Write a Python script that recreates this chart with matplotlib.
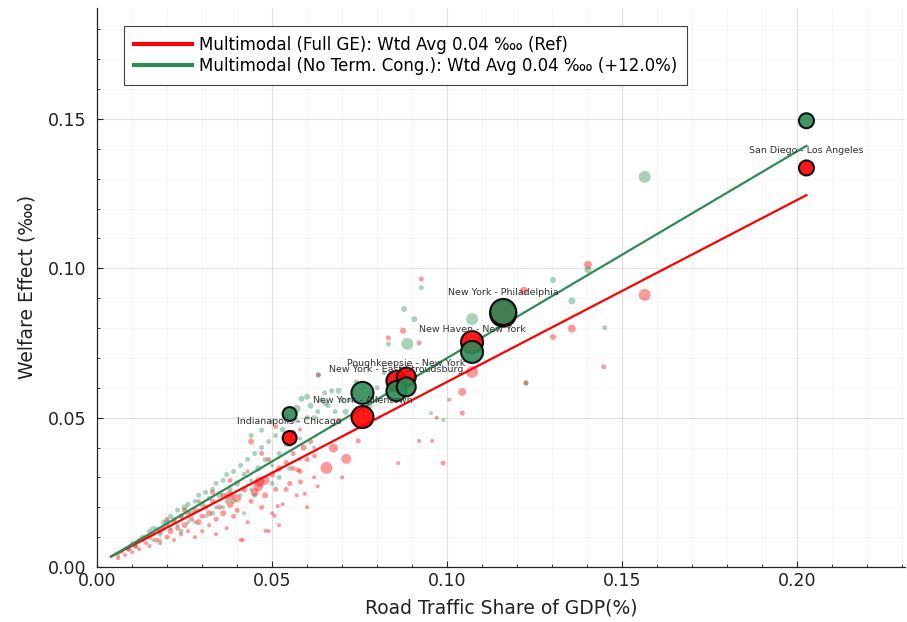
import matplotlib
matplotlib.use("Agg")
import matplotlib.pyplot as plt
from matplotlib.lines import Line2D
from matplotlib.ticker import MultipleLocator, FormatStrFormatter

# ---------------- data ----------------
# background routes, Full GE (red): x, y, marker diameter(px)
red_x = [0.006, 0.008, 0.009, 0.010, 0.011, 0.012, 0.013, 0.014, 0.015, 0.015, 0.016, 0.017, 0.018, 0.018,
         0.019, 0.020, 0.020, 0.021, 0.022, 0.022, 0.023, 0.024, 0.024, 0.025, 0.026, 0.026, 0.027, 0.028,
         0.028, 0.029, 0.030, 0.030, 0.031, 0.032, 0.032, 0.033, 0.034, 0.034, 0.035, 0.036, 0.036, 0.037,
         0.038, 0.039, 0.040, 0.040, 0.041, 0.042, 0.043, 0.044, 0.045, 0.046, 0.047, 0.048, 0.048, 0.049,
         0.050, 0.050, 0.051, 0.052, 0.052, 0.053, 0.054, 0.055, 0.056, 0.057, 0.058, 0.059, 0.060, 0.061,
         0.062, 0.044, 0.051, 0.047, 0.056,
         0.020, 0.025, 0.029, 0.033, 0.038, 0.043, 0.049, 0.055, 0.058,
         0.1564, 0.1402, 0.1356, 0.1302, 0.1447, 0.1219, 0.1071, 0.0926, 0.0874, 0.0832, 0.0920, 0.1043,
         0.1043, 0.1006, 0.0970, 0.0957, 0.0920, 0.0988, 0.0860, 0.0746, 0.0778, 0.0675, 0.0655, 0.0712,
         0.0621, 0.0573, 0.0581, 0.0593, 0.0507, 0.0516, 0.0481, 0.0416, 0.0464, 0.0379, 0.0630, 0.0600,
         0.0560, 0.0540, 0.0700, 0.0632, 0.1225, 0.0800, 0.0690]
red_y = [0.003, 0.004, 0.006, 0.005, 0.007, 0.006, 0.009, 0.008, 0.010, 0.007, 0.011, 0.009, 0.012, 0.008,
         0.013, 0.010, 0.014, 0.012, 0.009, 0.015, 0.013, 0.011, 0.017, 0.014, 0.012, 0.018, 0.016, 0.010,
         0.019, 0.015, 0.017, 0.012, 0.020, 0.014, 0.018, 0.022, 0.016, 0.011, 0.020, 0.018, 0.024, 0.013,
         0.021, 0.017, 0.023, 0.019, 0.009, 0.026, 0.015, 0.022, 0.025, 0.027, 0.020, 0.029, 0.024, 0.012,
         0.031, 0.018, 0.026, 0.033, 0.014, 0.021, 0.035, 0.028, 0.038, 0.024, 0.032, 0.040, 0.036, 0.042,
         0.030, 0.042, 0.047, 0.038, 0.045,
         0.016, 0.019, 0.022, 0.025, 0.029, 0.032, 0.036, 0.041, 0.046,
         0.0911, 0.1012, 0.0798, 0.0770, 0.0670, 0.0925, 0.0653, 0.0964, 0.0791, 0.0767, 0.0750, 0.0586,
         0.0515, 0.0560, 0.0500, 0.0422, 0.0422, 0.0348, 0.0348, 0.0422, 0.0479, 0.0398, 0.0332, 0.0362,
         0.0372, 0.0325, 0.0285, 0.0245, 0.0171, 0.0204, 0.0121, 0.0091, 0.0285, 0.0238, 0.0270, 0.0200,
         0.0330, 0.0260, 0.0300, 0.0643, 0.0616, 0.0560, 0.0490]
red_d = [4, 4, 5, 4, 5, 4, 5, 4, 5, 4, 5, 5, 6, 4,
         5, 5, 4, 6, 4, 5, 5, 4, 5, 6, 4, 5, 5, 4,
         5, 6, 5, 4, 5, 4, 6, 5, 5, 4, 5, 6, 5, 4,
         7, 5, 8, 5, 4, 6, 4, 5, 8, 10, 5, 9, 6, 4,
         6, 4, 5, 6, 4, 4, 5, 5, 5, 4, 5, 6, 5, 5,
         4, 6, 5, 5, 5,
         5, 5, 4, 5, 5, 4, 5, 5, 4,
         12, 8, 8, 6, 5, 8, 12, 5, 6, 5, 5, 8,
         5, 4, 4, 4, 4, 5, 4, 5, 5, 9, 12, 10,
         5, 5, 5, 4, 4, 4, 4, 4, 10, 10, 4, 4,
         5, 5, 4, 5, 5, 5, 5]

# background routes, No Terminal Congestion (green)
green_x = [0.006, 0.007, 0.009, 0.010, 0.011, 0.012, 0.013, 0.014, 0.015, 0.016, 0.016, 0.017, 0.018, 0.019,
           0.020, 0.021, 0.021, 0.022, 0.023, 0.023, 0.024, 0.025, 0.026, 0.026, 0.027, 0.028, 0.029, 0.029,
           0.030, 0.031, 0.031, 0.032, 0.033, 0.034, 0.034, 0.035, 0.036, 0.037, 0.037, 0.038, 0.039, 0.040,
           0.041, 0.041, 0.042, 0.043, 0.044, 0.045, 0.046, 0.047, 0.048, 0.049, 0.050, 0.051, 0.052, 0.053,
           0.054, 0.056, 0.057, 0.058, 0.060, 0.061, 0.063, 0.064, 0.066, 0.067, 0.070, 0.071, 0.045, 0.052,
           0.058, 0.036, 0.042,
           0.018, 0.024, 0.028, 0.033, 0.039, 0.044, 0.050, 0.055, 0.062,
           0.1564, 0.1402, 0.1302, 0.1356, 0.1450, 0.1071, 0.0926, 0.0877, 0.0906, 0.0886, 0.0832, 0.0954,
           0.0989, 0.0632, 0.0650, 0.0584, 0.0652, 0.0540, 0.0499, 0.0470, 0.0570, 0.0600, 0.0690, 0.0720,
           0.0800, 0.0820, 0.0680, 0.0620, 0.1225, 0.0740, 0.0780, 0.0440]
green_y = [0.004, 0.005, 0.006, 0.008, 0.007, 0.009, 0.010, 0.010, 0.012, 0.009, 0.013, 0.013, 0.011, 0.015,
           0.015, 0.013, 0.017, 0.016, 0.014, 0.019, 0.017, 0.020, 0.015, 0.021, 0.018, 0.022, 0.019, 0.024,
           0.021, 0.025, 0.017, 0.023, 0.026, 0.020, 0.028, 0.024, 0.029, 0.022, 0.031, 0.026, 0.032, 0.028,
           0.034, 0.024, 0.031, 0.036, 0.029, 0.038, 0.033, 0.040, 0.036, 0.042, 0.034, 0.044, 0.038, 0.046,
           0.041, 0.045, 0.049, 0.043, 0.050, 0.054, 0.052, 0.056, 0.054, 0.059, 0.056, 0.052, 0.024, 0.030,
           0.036, 0.020, 0.018,
           0.009, 0.012, 0.015, 0.018, 0.022, 0.026, 0.028, 0.033, 0.040,
           0.1306, 0.0995, 0.0961, 0.0891, 0.0801, 0.0830, 0.0935, 0.0864, 0.0830, 0.0747, 0.0747, 0.0515,
           0.0492, 0.0643, 0.0583, 0.0563, 0.0549, 0.0509, 0.0486, 0.0458, 0.0530, 0.0570, 0.0590, 0.0560,
           0.0600, 0.0650, 0.0520, 0.0500, 0.0616, 0.0620, 0.0540, 0.0440]
green_d = [4, 4, 5, 4, 5, 4, 5, 4, 5, 4, 5, 4, 5, 5,
           6, 4, 5, 5, 4, 5, 5, 6, 4, 5, 5, 5, 4, 5,
           6, 5, 4, 5, 5, 4, 5, 6, 5, 4, 5, 5, 5, 6,
           5, 4, 5, 5, 4, 5, 6, 5, 5, 5, 4, 5, 5, 6,
           5, 5, 5, 4, 5, 6, 5, 5, 5, 5, 5, 6, 5, 5,
           4, 4, 4,
           4, 5, 4, 5, 5, 4, 5, 5, 4,
           12, 7, 6, 7, 5, 12, 5, 6, 6, 12, 5, 4,
           4, 5, 5, 6, 6, 5, 5, 5, 8, 6, 6, 5,
           5, 5, 5, 5, 5, 5, 5, 5]

# highlighted corridors
hl_names = ["Indianapolis - Chicago", "New York - Allentown", "New York - East Stroudsburg",
            "Poughkeepsie - New York", "New Haven - New York", "New York - Philadelphia",
            "San Diego - Los Angeles"]
hl_x = [0.0550, 0.0758, 0.0855, 0.0883, 0.1071, 0.1160, 0.2026]
hl_red_y = [0.0432, 0.0502, 0.0623, 0.0636, 0.0753, 0.0848, 0.1336]
hl_green_y = [0.0512, 0.0583, 0.0589, 0.0603, 0.0720, 0.0854, 0.1494]
hl_d = [14, 22, 20, 19, 22, 26, 15]
hl_label_y = [0.0486, 0.0558, 0.0660, 0.0680, 0.0794, 0.0918, 0.1393]

# fitted trend lines
fit_x = [0.004, 0.2026]
fit_red = [0.0035, 0.1245]
fit_green = [0.0035, 0.1410]

legend_labels = ["Multimodal (Full GE): Wtd Avg 0.04 \u2031 (Ref)",
                 "Multimodal (No Term. Cong.): Wtd Avg 0.04 \u2031 (+12.0%)"]

RED = "#ff0000"
GREEN = "#2e8b57"


def area(d):
    return [(v * 0.72) ** 2 for v in d]


fig = plt.figure(figsize=(9.07, 6.22), dpi=100)
ax = fig.add_axes([0.107, 0.0884, 0.891, 0.899])

ax.scatter(red_x, red_y, s=area(red_d), color=RED, alpha=0.4, linewidths=0, zorder=2)
ax.scatter(green_x, green_y, s=area(green_d), color=GREEN, alpha=0.4, linewidths=0, zorder=2)

ax.plot(fit_x, fit_red, color=RED, lw=1.6, zorder=3)
ax.plot(fit_x, fit_green, color=GREEN, lw=1.6, zorder=3)

ax.scatter(hl_x, hl_red_y, s=area(hl_d), color=RED, alpha=0.9, edgecolors="black", linewidths=1.5, zorder=4)
ax.scatter(hl_x, hl_green_y, s=area(hl_d), color=GREEN, alpha=0.9, edgecolors="black", linewidths=1.5, zorder=5)

for name, x, y in zip(hl_names, hl_x, hl_label_y):
    ax.text(x, y, name, fontsize=6.8, color="#333333", ha="center", va="center", zorder=6)

ax.set_xlim(0, 0.2308)
ax.set_ylim(0, 0.1872)
ax.xaxis.set_major_locator(MultipleLocator(0.05))
ax.yaxis.set_major_locator(MultipleLocator(0.05))
ax.xaxis.set_minor_locator(MultipleLocator(0.01))
ax.yaxis.set_minor_locator(MultipleLocator(0.01))
ax.xaxis.set_major_formatter(FormatStrFormatter("%.2f"))
ax.yaxis.set_major_formatter(FormatStrFormatter("%.2f"))
ax.grid(which="major", color="black", alpha=0.12, lw=0.8)
ax.grid(which="minor", color="black", alpha=0.05, lw=0.5)
ax.set_axisbelow(True)
for s in ["top", "right"]:
    ax.spines[s].set_visible(False)
for s in ["left", "bottom"]:
    ax.spines[s].set_color("#222222")
    ax.spines[s].set_linewidth(0.9)
ax.tick_params(which="major", direction="in", length=4, labelsize=12.5, colors="#222222")
ax.tick_params(axis="y", which="major", pad=8)
ax.tick_params(which="minor", direction="in", length=2, colors="#222222")

ax.set_xlabel("Road Traffic Share of GDP(%)", fontsize=13.5, color="#222222", labelpad=6)
ax.set_ylabel("Welfare Effect (\u2031)", fontsize=13.5, color="#222222", labelpad=8)

handles = [Line2D([0], [0], color=RED, lw=3), Line2D([0], [0], color=GREEN, lw=3)]
leg = ax.legend(handles, legend_labels, loc="upper left", bbox_to_anchor=(0.033, 0.968),
                borderaxespad=0, fontsize=12, frameon=True, fancybox=False,
                framealpha=1, edgecolor="#444444", handlelength=3.5, handletextpad=0.4,
                labelspacing=0.2, borderpad=0.6)
leg.get_frame().set_linewidth(0.8)

fig.savefig("out.png", dpi=100)
